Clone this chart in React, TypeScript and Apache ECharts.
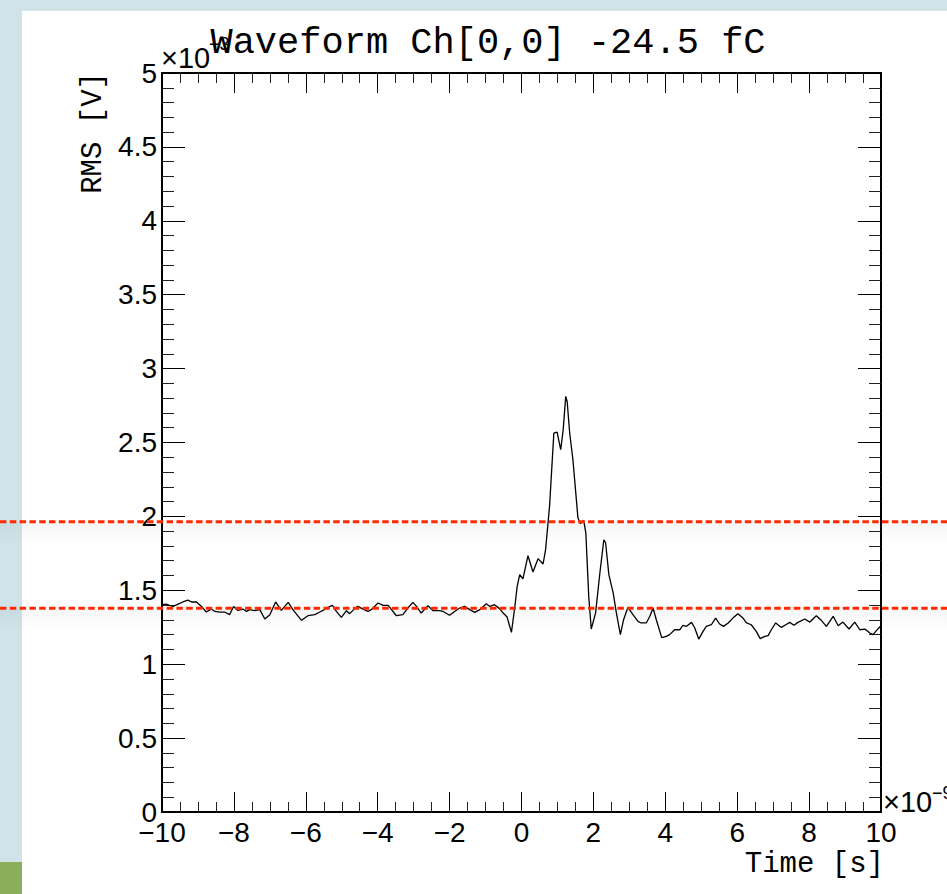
import React, { useEffect, useRef } from 'react';
import * as echarts from 'echarts';

// Time in units of 1e-9 s (axis shows x10^-9)
const timeNs = [
  -10.0, -9.88, -9.79, -9.69, -9.55, -9.42, -9.28, -9.18, -9.04, -8.9,
  -8.77, -8.63, -8.53, -8.39, -8.26, -8.12, -8.01, -7.89, -7.75, -7.65,
  -7.56, -7.42, -7.28, -7.14, -7.0, -6.84, -6.68, -6.49, -6.36, -6.12,
  -5.94, -5.75, -5.61, -5.52, -5.43, -5.26, -5.15, -5.01, -4.87, -4.78,
  -4.64, -4.55, -4.41, -4.27, -4.18, -3.99, -3.85, -3.71, -3.48, -3.3,
  -3.16, -3.02, -2.92, -2.79, -2.6, -2.46, -2.28, -2.18, -2.0, -1.86,
  -1.72, -1.58, -1.44, -1.3, -1.16, -0.98, -0.88, -0.75, -0.61, -0.51,
  -0.4, -0.28, -0.19, -0.12, -0.05, 0.04, 0.18, 0.32, 0.46, 0.6,
  0.67, 0.78, 0.9, 0.99, 1.09, 1.16, 1.23, 1.27, 1.34, 1.43,
  1.57, 1.64, 1.73, 1.79, 1.87, 1.94, 2.06, 2.18, 2.29, 2.34,
  2.43, 2.55, 2.64, 2.75, 2.84, 2.96, 3.1, 3.24, 3.33, 3.47,
  3.57, 3.66, 3.75, 3.9, 4.03, 4.12, 4.26, 4.4, 4.49, 4.59,
  4.73, 4.82, 4.93, 5.05, 5.14, 5.28, 5.4, 5.51, 5.62, 5.75,
  5.88, 6.02, 6.16, 6.26, 6.39, 6.53, 6.64, 6.77, 6.86, 6.95,
  7.07, 7.23, 7.35, 7.46, 7.58, 7.69, 7.88, 8.02, 8.2, 8.34,
  8.48, 8.67, 8.81, 8.94, 9.11, 9.27, 9.41, 9.55, 9.69, 9.78,
  9.87, 10.0,
];

// RMS in units of 1e-3 V (axis shows x10^-3)
const rmsMilliV = [
  1.403, 1.407, 1.398, 1.391, 1.407, 1.421, 1.434, 1.421, 1.421, 1.391,
  1.353, 1.373, 1.357, 1.353, 1.353, 1.335, 1.391, 1.364, 1.373, 1.357,
  1.369, 1.362, 1.369, 1.306, 1.335, 1.421, 1.364, 1.418, 1.369, 1.297,
  1.328, 1.335, 1.353, 1.364, 1.38, 1.398, 1.357, 1.317, 1.362, 1.342,
  1.376, 1.391, 1.373, 1.357, 1.369, 1.414, 1.398, 1.398, 1.328, 1.335,
  1.38, 1.418, 1.391, 1.346, 1.396, 1.362, 1.362, 1.357, 1.331, 1.357,
  1.38, 1.391, 1.369, 1.351, 1.369, 1.409, 1.391, 1.403, 1.376, 1.346,
  1.319, 1.215, 1.38, 1.527, 1.606, 1.578, 1.734, 1.624, 1.714, 1.678,
  1.775, 2.068, 2.564, 2.571, 2.451, 2.587, 2.812, 2.778, 2.564, 2.384,
  1.989, 1.951, 1.973, 1.887, 1.459, 1.238, 1.346, 1.617, 1.842, 1.82,
  1.606, 1.482, 1.346, 1.2, 1.301, 1.385, 1.335, 1.29, 1.279, 1.279,
  1.324, 1.38, 1.301, 1.18, 1.188, 1.2, 1.233, 1.233, 1.263, 1.256,
  1.283, 1.245, 1.17, 1.222, 1.256, 1.267, 1.312, 1.272, 1.256, 1.279,
  1.312, 1.342, 1.312, 1.279, 1.267, 1.222, 1.173, 1.188, 1.193, 1.233,
  1.279, 1.249, 1.267, 1.283, 1.263, 1.283, 1.306, 1.285, 1.328, 1.297,
  1.256, 1.324, 1.26, 1.285, 1.238, 1.285, 1.233, 1.238, 1.211, 1.2,
  1.227, 1.26,
];

// Horizontal dashed reference levels (x10^-3 V)
const thresholdLevels = [1.378, 1.964];

const titleText = 'Waveform Ch[0,0] -24.5 fC';
const xTitle = 'Time [s]';
const yTitle = 'RMS [V]';
const xExponent = ['×10', '−9'];
const yExponent = ['×10', '−3'];

export default function App() {
  const ref = useRef<HTMLDivElement>(null);

  useEffect(() => {
    if (!ref.current) return;
    const chart = echarts.init(ref.current, null, { renderer: 'svg' });
    const W = 947;
    const H = 894;
    const sans = "'Liberation Sans', Arial, Helvetica, sans-serif";
    const mono = "'Liberation Mono', 'Courier New', monospace";
    const black = '#000';

    const seriesData = timeNs.map((t, i) => [t, rmsMilliV[i]]);

    const xBase = {
      type: 'value',
      min: -10,
      max: 10,
      interval: 2,
      axisLine: { show: true, onZero: false, lineStyle: { color: black, width: 2 } },
      axisTick: { show: true, inside: true, length: 20, lineStyle: { color: black, width: 1 } },
      minorTick: { show: true, splitNumber: 4, length: 10, lineStyle: { color: '#222', width: 1 } },
      splitLine: { show: false },
      minorSplitLine: { show: false },
    };
    const yBase = {
      type: 'value',
      min: 0,
      max: 5,
      interval: 0.5,
      axisLine: { show: true, onZero: false, lineStyle: { color: black, width: 2 } },
      axisTick: { show: true, inside: true, length: 23, lineStyle: { color: black, width: 1 } },
      minorTick: { show: true, splitNumber: 5, length: 12, lineStyle: { color: '#222', width: 1 } },
      splitLine: { show: false },
      minorSplitLine: { show: false },
    };

    chart.setOption({
      animation: false,
      backgroundColor: '#ffffff',
      grid: {
        left: 162,
        top: 73,
        right: W - 881,
        bottom: H - 812,
        containLabel: false,
        outerBoundsMode: 'none',
      },
      xAxis: [
        {
          ...xBase,
          position: 'bottom',
          axisLabel: {
            show: true,
            margin: 6,
            fontFamily: sans,
            fontSize: 28,
            color: black,
            showMinLabel: true,
            showMaxLabel: true,
            formatter: (v: number) => String(v).replace('-', '−'),
          },
        },
        {
          ...xBase,
          position: 'top',
          axisLabel: { show: false },
        },
      ],
      yAxis: [
        {
          ...yBase,
          position: 'left',
          axisLabel: {
            show: true,
            margin: 5,
            fontFamily: sans,
            fontSize: 28,
            color: black,
            showMinLabel: true,
            showMaxLabel: true,
          },
        },
        {
          ...yBase,
          position: 'right',
          axisLabel: { show: false },
        },
      ],
      series: [
        {
          type: 'line',
          xAxisIndex: 0,
          yAxisIndex: 0,
          data: seriesData,
          symbol: 'none',
          smooth: false,
          clip: true,
          lineStyle: { color: black, width: 1.3 },
          z: 5,
        },
      ],
    });

    const levelYs = thresholdLevels.map((v) => chart.convertToPixel({ yAxisIndex: 0 }, v) as number);

    const graphics: any[] = [
      // slide-style background frame
      { type: 'rect', z: -100, shape: { x: 0, y: 0, width: W, height: 11 }, style: { fill: '#cfe3e9' } },
      { type: 'rect', z: -100, shape: { x: 0, y: 0, width: 22, height: 862 }, style: { fill: '#cfe3e9' } },
      { type: 'rect', z: -100, shape: { x: 0, y: 862, width: 22, height: H - 862 }, style: { fill: '#8aae5b' } },
      // title
      {
        type: 'text',
        z: 50,
        x: 488,
        y: 43,
        style: {
          text: titleText,
          fontFamily: mono,
          fontSize: 37,
          fill: black,
          align: 'center',
          verticalAlign: 'middle',
        },
      },
      // y axis title
      {
        type: 'text',
        z: 50,
        x: 93,
        y: 72,
        rotation: Math.PI / 2,
        style: {
          text: yTitle,
          fontFamily: mono,
          fontSize: 29,
          fill: black,
          align: 'right',
          verticalAlign: 'middle',
        },
      },
      // x axis title
      {
        type: 'text',
        z: 50,
        x: 884,
        y: 864,
        style: {
          text: xTitle,
          fontFamily: mono,
          fontSize: 29,
          fill: black,
          align: 'right',
          verticalAlign: 'middle',
        },
      },
      // exponents
      {
        type: 'text',
        z: 40,
        x: 161,
        y: 58,
        style: { text: yExponent[0], fontFamily: sans, fontSize: 29, fill: black, align: 'left', verticalAlign: 'middle' },
      },
      {
        type: 'text',
        z: 40,
        x: 209,
        y: 44,
        style: { text: yExponent[1], fontFamily: sans, fontSize: 18, fill: black, align: 'left', verticalAlign: 'middle' },
      },
      {
        type: 'text',
        z: 40,
        x: 883,
        y: 802,
        style: { text: xExponent[0], fontFamily: sans, fontSize: 29, fill: black, align: 'left', verticalAlign: 'middle' },
      },
      {
        type: 'text',
        z: 40,
        x: 932,
        y: 793,
        style: { text: xExponent[1], fontFamily: sans, fontSize: 18, fill: black, align: 'left', verticalAlign: 'middle' },
      },
    ];

    levelYs.forEach((ly) => {
      graphics.push({
        type: 'rect',
        z: 90,
        silent: true,
        shape: { x: 0, y: ly + 1.5, width: W, height: 22 },
        style: {
          fill: {
            type: 'linear',
            x: 0,
            y: 0,
            x2: 0,
            y2: 1,
            colorStops: [
              { offset: 0, color: 'rgba(0,0,0,0.035)' },
              { offset: 1, color: 'rgba(0,0,0,0)' },
            ],
          },
        },
      });
      graphics.push({
        type: 'line',
        z: 100,
        silent: true,
        shape: { x1: 0, y1: ly, x2: W, y2: ly },
        style: { stroke: '#ff2a00', lineWidth: 3, lineDash: [6.5, 3.3] },
      });
    });

    chart.setOption({ graphic: graphics });

    return () => {
      chart.dispose();
    };
  }, []);

  return (
    <div
      ref={ref}
      style={{ position: 'fixed', left: 0, top: 0, width: 947, height: 894 }}
    />
  );
}
